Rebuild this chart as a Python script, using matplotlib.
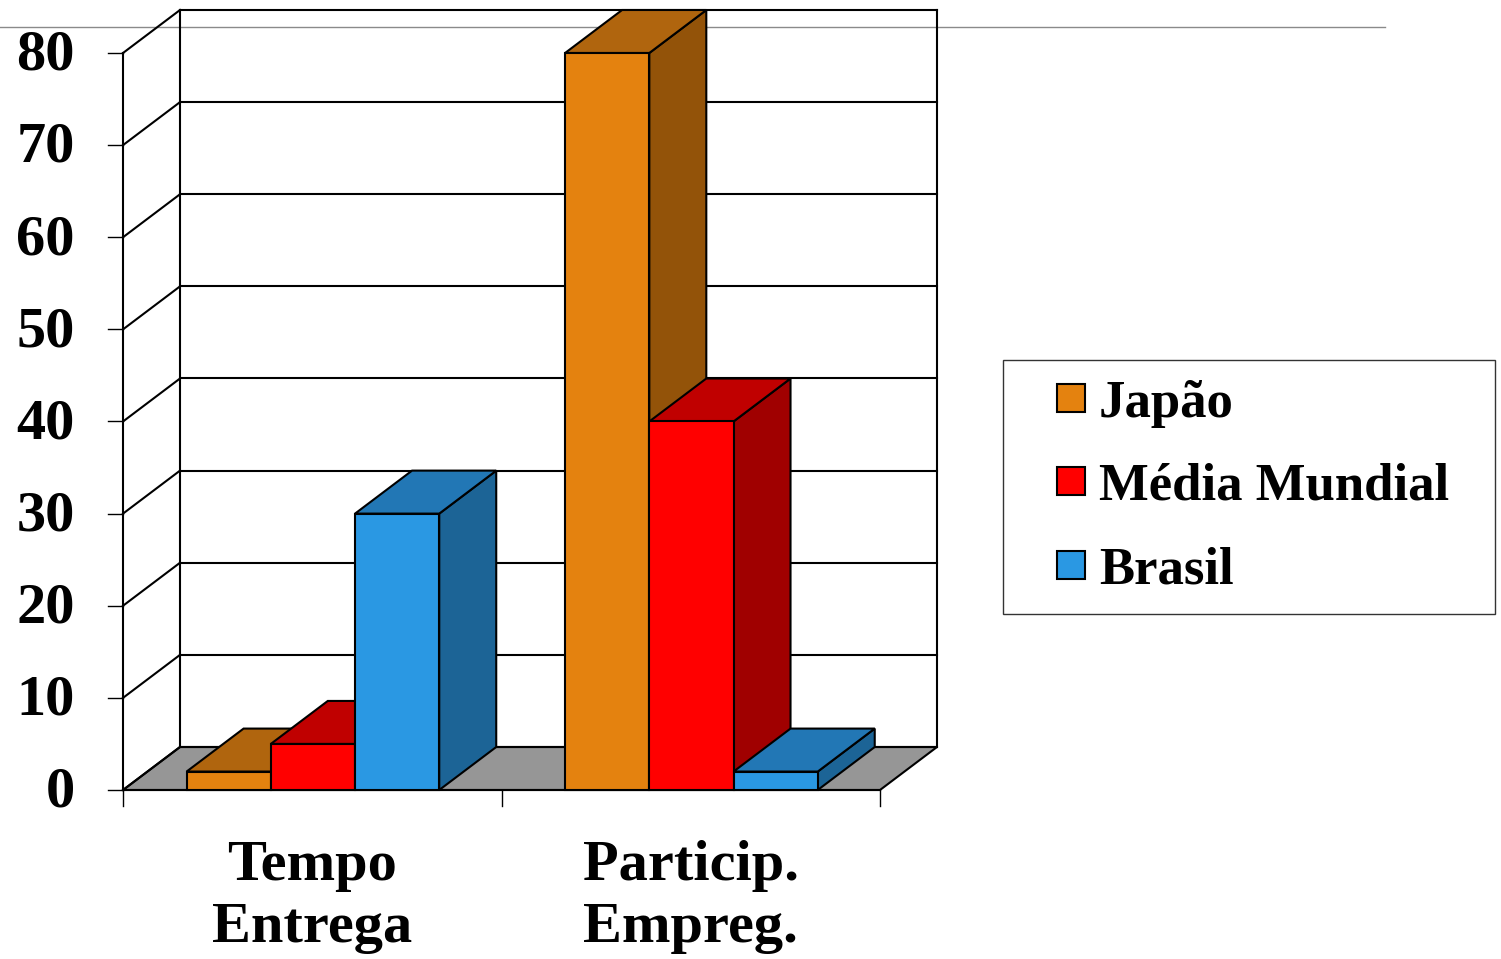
import matplotlib
matplotlib.use("Agg")
import matplotlib.pyplot as plt
from matplotlib.patches import Polygon
from matplotlib.lines import Line2D

plt.rcParams["font.family"] = ["Liberation Serif", "DejaVu Serif"]
plt.rcParams["font.weight"] = "bold"

# ---- data ---------------------------------------------------------------
CATEGORIES = ["Tempo\nEntrega", "Particip.\nEmpreg."]
SERIES     = ["Japão", "Média Mundial", "Brasil"]
JAPAO      = [2, 80]
MEDIA      = [5, 40]
BRASIL     = [30, 2]
Y_TICKS    = [0, 10, 20, 30, 40, 50, 60, 70, 80]

# ---- style --------------------------------------------------------------
FRONT = ["#E4820F", "#FF0000", "#2A98E3"]
TOP   = ["#B0650E", "#C00000", "#2277B5"]
SIDE  = ["#935309", "#A00000", "#1C6496"]
FLOOR = "#969696"

# pixel scale of the front plane (used to place the axes so the layout matches)
PX_X = 378.5      # px per category unit
PX_Y = 9.2125     # px per value unit
X_ORIGIN_PX = 123
Y_ORIGIN_PX = 790
W, H = 1501, 959

DX = 57 / PX_X    # depth offset in x units
DY = 43 / PX_Y    # depth offset in value units
BAR_W = 0.2225
GROUP_PAD = 0.168
YMAX = max(Y_TICKS)
LW = 1.5
RULE_Y = 82.8     # thin grey rule near the top of the slide

fig = plt.figure(figsize=(W / 100, H / 100), dpi=100)
ax = fig.add_axes([0, 0, 1, 1])
ax.set_xlim(-X_ORIGIN_PX / PX_X, (W - X_ORIGIN_PX) / PX_X)
ax.set_ylim((Y_ORIGIN_PX - H) / PX_Y, Y_ORIGIN_PX / PX_Y)
ax.axis("off")

n_cat = len(CATEGORIES)

ax.axhline(RULE_Y, xmin=0, xmax=1385 / W, color="#8a8a8a", lw=1.0, zorder=0)

# floor
ax.add_patch(Polygon([(0, 0), (n_cat, 0), (n_cat + DX, DY), (DX, DY)],
                     closed=True, facecolor=FLOOR, edgecolor="black", lw=LW, zorder=1))

# back wall + left wall
ax.plot([DX, DX], [DY, YMAX + DY], color="black", lw=LW, zorder=1)
ax.plot([n_cat + DX, n_cat + DX], [DY, YMAX + DY], color="black", lw=LW, zorder=1)
ax.plot([0, 0], [0, YMAX], color="black", lw=LW, zorder=1)
for t in Y_TICKS:
    ax.plot([DX, n_cat + DX], [t + DY, t + DY], color="black", lw=LW, zorder=1)
    ax.plot([0, DX], [t, t + DY], color="black", lw=LW, zorder=1)
    ax.plot([-15 / PX_X, 0], [t, t], color="black", lw=1.0, zorder=1)
    ax.text(-48 / PX_X, t - 0.3, str(t), ha="right", va="center", fontsize=42,
            fontweight="bold")

# x axis front line + ticks
ax.plot([0, n_cat], [0, 0], color="black", lw=LW, zorder=2)
for i in range(n_cat + 1):
    ax.plot([i, i], [0, -1.7], color="black", lw=1.0, zorder=2)

# bars, drawn left to right so later bars hide earlier side faces
values = [JAPAO, MEDIA, BRASIL]
z = 3
for g in range(n_cat):
    for k, vals in enumerate(values):
        v = vals[g]
        x0 = g + GROUP_PAD + k * BAR_W
        x1 = x0 + BAR_W
        kw = dict(closed=True, edgecolor="black", lw=LW, zorder=z)
        ax.add_patch(Polygon([(x1, 0), (x1 + DX, DY), (x1 + DX, v + DY), (x1, v)],
                             facecolor=SIDE[k], **kw))
        ax.add_patch(Polygon([(x0, v), (x1, v), (x1 + DX, v + DY), (x0 + DX, v + DY)],
                             facecolor=TOP[k], **kw))
        ax.add_patch(Polygon([(x0, 0), (x1, 0), (x1, v), (x0, v)],
                             facecolor=FRONT[k], **kw))
        z += 1

# category labels
for i, c in enumerate(CATEGORIES):
    ax.text(i + 0.5, -11.6, c, ha="center", va="center", fontsize=42,
            fontweight="bold", linespacing=1.25)

# legend
handles = [Line2D([], [], ls="none", marker="s", markersize=20,
                  markerfacecolor=FRONT[k], markeredgecolor="black",
                  markeredgewidth=1.5, label=s)
           for k, s in enumerate(SERIES)]
leg = ax.legend(handles=handles, loc="upper left", mode="expand",
                bbox_to_anchor=(1003 / W, 1 - 612 / H, 492 / W, 252 / H),
                bbox_transform=fig.transFigure,
                prop=dict(family="Liberation Serif", weight="bold", size=38),
                handlelength=1.84, handletextpad=-0.39,
                labelspacing=0.67, borderpad=0.37, borderaxespad=0,
                fancybox=False, framealpha=1, edgecolor="#333333")
leg.get_frame().set_linewidth(1.0)

fig.savefig("out.png", dpi=100)
